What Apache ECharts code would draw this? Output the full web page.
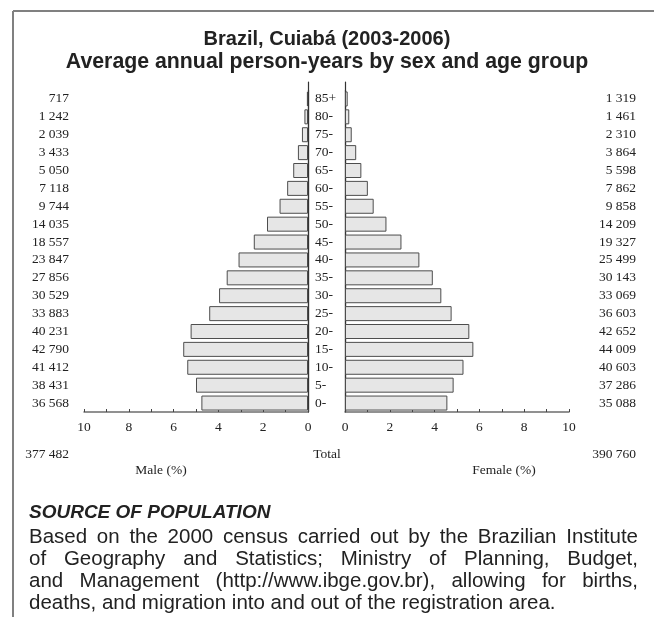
<!DOCTYPE html>
<html>
<head>
<meta charset="utf-8">
<script src="https://cdn.jsdelivr.net/npm/echarts@6/dist/echarts.min.js"></script>
<style>
html,body{margin:0;padding:0;background:#fff;}
#chart{width:654px;height:617px;}
</style>
</head>
<body>
<div id="chart"></div>
<script>
// ---- data ----
const ageGroups = ['0-','5-','10-','15-','20-','25-','30-','35-','40-','45-','50-','55-','60-','65-','70-','75-','80-','85+'];
const maleCounts = [36568,38431,41412,42790,40231,33883,30529,27856,23847,18557,14035,9744,7118,5050,3433,2039,1242,717];
const femaleCounts = [35088,37286,40603,44009,42652,36603,33069,30143,25499,19327,14209,9858,7862,5598,3864,2310,1461,1319];
const malePct = [4.76,5.00,5.39,5.57,5.24,4.41,3.97,3.63,3.10,2.42,1.83,1.27,0.93,0.66,0.45,0.27,0.16,0.05];
const femalePct = [4.57,4.85,5.29,5.73,5.55,4.76,4.30,3.92,3.32,2.52,1.85,1.28,1.02,0.73,0.50,0.30,0.19,0.12];
const maleTotal = 377482;
const femaleTotal = 390760;
const titleLines = ['Brazil, Cuiabá (2003-2006)','Average annual person-years by sex and age group'];
const sourceHeading = 'SOURCE OF POPULATION';
const sourceLines = [
  'Based on the 2000 census carried out by the Brazilian Institute',
  'of Geography and Statistics; Ministry of Planning, Budget,',
  'and Management (http://www.ibge.gov.br), allowing for births,',
  'deaths, and migration into and out of the registration area.'
];

// ---- helpers ----
function fmt(n){ return String(n).replace(/\B(?=(\d{3})+(?!\d))/g,' '); }
const SERIF = '"Liberation Serif","DejaVu Serif",serif';
const SANS = '"Liberation Sans",Arial,sans-serif';
const serifText = {fontFamily: SERIF, fontSize: 13.5, color: '#222'};

const measureCtx = document.createElement('canvas').getContext('2d');
function justified(line, x0, x1, y, fontSize, last){
  measureCtx.font = fontSize + 'px ' + SANS;
  const words = line.split(' ');
  const widths = words.map(w => measureCtx.measureText(w).width);
  const total = widths.reduce((a,b)=>a+b,0);
  const spaceW = measureCtx.measureText(' ').width;
  const gap = last ? spaceW : (x1 - x0 - total) / (words.length - 1);
  const els = [];
  let x = x0;
  words.forEach((w,i)=>{
    els.push({type:'text', x:x, y:y, silent:true,
      style:{text:w, fill:'#222', font: fontSize + 'px ' + SANS, textVerticalAlign:'middle', textAlign:'left'}});
    x += widths[i] + gap;
  });
  return els;
}

const graphics = [
  {type:'line', shape:{x1:13,y1:11,x2:654,y2:11}, style:{stroke:'#808080', lineWidth:2}, silent:true},
  {type:'line', shape:{x1:13,y1:11,x2:13,y2:617}, style:{stroke:'#808080', lineWidth:2}, silent:true},
  {type:'text', x:69, y:454, style:{text:fmt(maleTotal), fill:'#222', font:'13.5px '+SERIF, textAlign:'right', textVerticalAlign:'middle'}},
  {type:'text', x:327, y:454, style:{text:'Total', fill:'#222', font:'13.5px '+SERIF, textAlign:'center', textVerticalAlign:'middle'}},
  {type:'text', x:636, y:454, style:{text:fmt(femaleTotal), fill:'#222', font:'13.5px '+SERIF, textAlign:'right', textVerticalAlign:'middle'}},
  {type:'text', x:161, y:470, style:{text:'Male (%)', fill:'#222', font:'13.5px '+SERIF, textAlign:'center', textVerticalAlign:'middle'}},
  {type:'text', x:504, y:470, style:{text:'Female (%)', fill:'#222', font:'13.5px '+SERIF, textAlign:'center', textVerticalAlign:'middle'}},
  {type:'text', x:29, y:513, style:{text:sourceHeading, fill:'#222', font:'italic bold 19px '+SANS, textAlign:'left', textVerticalAlign:'middle'}}
];
const lineYs = [537,559.5,581.5,603.5];
sourceLines.forEach((l,i)=>{
  justified(l, 29, 638, lineYs[i], 20.5, i === sourceLines.length-1).forEach(e=>graphics.push(e));
});

const chart = echarts.init(document.getElementById('chart'), null, {renderer:'canvas'});

const xCommon = {
  type:'value', min:0, max:10, interval:1,
  axisLine:{show:true, lineStyle:{color:'#6e6e6e', width:1.5}},
  axisTick:{show:true, inside:true, length:3, lineStyle:{color:'#444'}},
  splitLine:{show:false},
  axisLabel:Object.assign({margin:8, formatter: v => (v % 2 === 0 ? String(v) : '')}, serifText)
};

const option = {
  backgroundColor:'#fff',
  animation:false,
  title:[
    {text: titleLines[0], left:'center', top:29, padding:0,
     textStyle:{fontFamily:SANS, fontWeight:'bold', fontSize:20, lineHeight:20, color:'#222'}},
    {text: titleLines[1], left:'center', top:51.5, padding:[0,0,0,18],
     textStyle:{fontFamily:SANS, fontWeight:'bold', fontSize:21.3, lineHeight:21.3, color:'#222'}}
  ],
  grid:[
    {left:84, width:224, top:90, height:322},
    {left:345, width:224, top:90, height:322},
    {left:308, width:1, top:82, height:330},
    {left:345, width:1, top:82, height:330}
  ],
  xAxis:[
    Object.assign({gridIndex:0, inverse:true}, xCommon),
    Object.assign({gridIndex:1}, xCommon),
    {gridIndex:2, type:'value', min:0, max:1, show:false},
    {gridIndex:3, type:'value', min:0, max:1, show:false}
  ],
  yAxis:[
    {gridIndex:0, type:'category', data:ageGroups, position:'right',
     axisLine:{show:true, lineStyle:{color:'#333', width:1.2}}, axisTick:{show:false},
     axisLabel:Object.assign({margin:7, align:'left', interval:0}, serifText)},
    {gridIndex:0, type:'category', data:maleCounts.map(fmt), position:'left',
     axisLine:{show:false}, axisTick:{show:false},
     axisLabel:Object.assign({margin:15, align:'right', interval:0}, serifText)},
    {gridIndex:1, type:'category', data:ageGroups, position:'left',
     axisLine:{show:true, lineStyle:{color:'#333', width:1.2}}, axisTick:{show:false},
     axisLabel:{show:false}},
    {gridIndex:1, type:'category', data:femaleCounts.map(fmt), position:'right',
     axisLine:{show:false}, axisTick:{show:false},
     axisLabel:Object.assign({margin:67, align:'right', interval:0}, serifText)},
    {gridIndex:2, type:'value', min:0, max:1, position:'left',
     axisLine:{show:true, lineStyle:{color:'#333', width:1.2}}, axisTick:{show:false}, axisLabel:{show:false}, splitLine:{show:false}},
    {gridIndex:3, type:'value', min:0, max:1, position:'left',
     axisLine:{show:true, lineStyle:{color:'#333', width:1.2}}, axisTick:{show:false}, axisLabel:{show:false}, splitLine:{show:false}}
  ],
  series:[
    {type:'bar', name:'Male', xAxisIndex:0, yAxisIndex:0, data:malePct, barWidth:15,
     itemStyle:{color:'#e6e6e6', borderColor:'#4d4d4d', borderWidth:1}},
    {type:'bar', name:'Female', xAxisIndex:1, yAxisIndex:2, data:femalePct, barWidth:15,
     itemStyle:{color:'#e6e6e6', borderColor:'#4d4d4d', borderWidth:1}}
  ],
  graphic: graphics
};
chart.setOption(option);
</script>
</body>
</html>
